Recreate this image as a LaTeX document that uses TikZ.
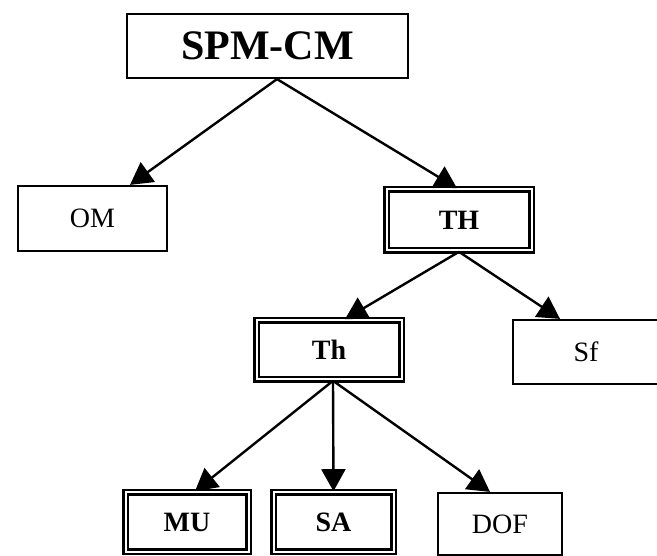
\documentclass[tikz,border=0pt]{standalone}
\usepackage{fontspec}
\setmainfont{Liberation Serif}
\usetikzlibrary{arrows.meta}

\tikzset{
  box/.style={draw, line width=2.2pt, inner sep=0pt, font=\fontsize{28}{30}\selectfont},
  dbox/.style={box, double, double distance=2pt, line width=2.6pt, font=\fontsize{28}{30}\selectfont\bfseries},
  link/.style={line width=2.4pt, -{Triangle[length=22pt,width=24pt]}}
}

\begin{document}
\begin{tikzpicture}[x=1pt,y=-1pt]
      \useasboundingbox (0,0) rectangle (657,556);
      % top level
      \node[box, minimum width=281pt, minimum height=64pt, font=\fontsize{42}{44}\selectfont\bfseries] (spm) at (267.5,46) {SPM-CM};
      \node[box, minimum width=149pt, minimum height=65pt] (om) at (92.5,218.5) {OM};
      \node[dbox, minimum width=145pt, minimum height=61pt] (thbig) at (459,220) {TH};
      % second level
      \node[dbox, minimum width=145pt, minimum height=59pt] (thsmall) at (329,350) {Th};
      \node[box, minimum width=146pt, minimum height=64pt] (sf) at (586,352) {Sf};
      % bottom row
      \node[dbox, minimum width=123pt, minimum height=59pt] (mu) at (187,522) {MU};
      \node[dbox, minimum width=120pt, minimum height=59pt] (sa) at (333.5,522) {SA};
      \node[box, minimum width=124pt, minimum height=62pt] (dof) at (500,524) {DOF};

      \coordinate (spmout) at ([xshift=9.5pt]spm.south);
      \coordinate (thout) at ([xshift=4pt]thsmall.south);

      \draw[link] (spmout) -- ([xshift=37.5pt]om.north);
      \draw[link] (spmout) -- ([xshift=-2pt]thbig.north);
      \draw[link] (thbig.south) -- ([xshift=16pt]thsmall.north);
      \draw[link] (thbig.south) -- ([xshift=-26pt]sf.north);
      \foreach \t/\s in {mu/8,sa/0,dof/-10} {
        \draw[link] (thout) -- ([xshift=\s pt]\t.north);
      }
\end{tikzpicture}
\end{document}
